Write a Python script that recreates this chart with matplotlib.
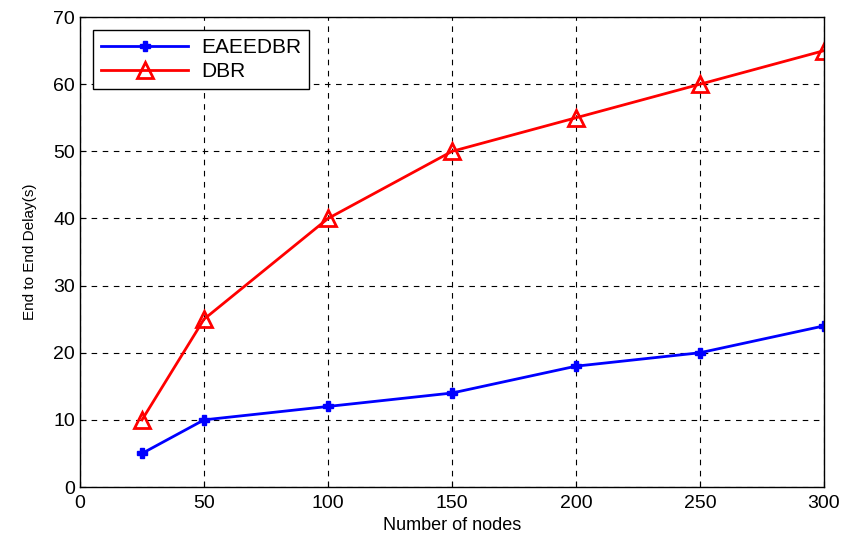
import matplotlib
matplotlib.use("Agg")
import matplotlib.pyplot as plt

plt.rcParams["font.family"] = ["Liberation Sans", "DejaVu Sans"]

nodes = [25, 50, 100, 150, 200, 250, 300]
eaeedbr = [5, 10, 12, 14, 18, 20, 24]
dbr = [10, 25, 40, 50, 55, 60, 65]

fig = plt.figure(figsize=(8.44, 5.34), dpi=100)
ax = fig.add_axes([0.0948, 0.088, 0.8815, 0.880])

ax.plot(nodes, eaeedbr, "-", color="blue", linewidth=2, marker="P",
        markersize=7, label="EAEEDBR")
ax.plot(nodes, dbr, "-", color="red", linewidth=2, marker="^",
        markersize=11, markerfacecolor="none", markeredgewidth=2, label="DBR")

ax.set_xlim(0, 300)
ax.set_ylim(0, 70)
ax.set_xticks([0, 50, 100, 150, 200, 250, 300])
ax.set_yticks(range(0, 71, 10))
ax.tick_params(labelsize=14, direction="in", length=4)
ax.tick_params(axis="x", pad=6)
ax.grid(True, color="black", linestyle=(0, (5, 5)), linewidth=0.8)
for s in ax.spines.values():
    s.set_linewidth(1)

ax.set_xlabel("Number of nodes", fontsize=13, labelpad=3)
ax.set_ylabel("End to End Delay(s)", fontsize=11, labelpad=12)

leg = ax.legend(loc="upper left", fontsize=15, fancybox=False, framealpha=1,
                edgecolor="black", handlelength=4.2, handletextpad=0.6,
                labelspacing=0.25, borderaxespad=0.6)
leg.get_frame().set_linewidth(1)

plt.savefig("out.png", dpi=100, facecolor="white")
